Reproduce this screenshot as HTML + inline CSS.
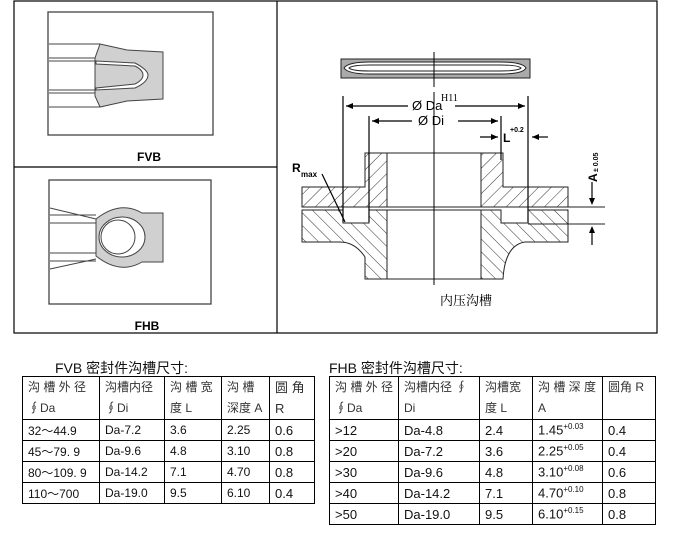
<!DOCTYPE html>
<html><head><meta charset="utf-8"><style>
body{margin:0;width:675px;height:539px;background:#fff;position:relative;overflow:hidden;font-family:"Liberation Sans","Noto Sans CJK SC",sans-serif;color:#111}
.abs{position:absolute}
table{position:absolute;border-collapse:collapse;font-size:12px}
td{border:1.3px solid #000;padding:0 0 0 5px;vertical-align:middle;white-space:nowrap}
.hd td{height:41px;color:#333;line-height:21px}
.r td{height:20px}
sup{font-size:8px}
</style></head><body>
<svg class="abs" style="left:0;top:0" width="675" height="340">
<defs><pattern id="h" width="9" height="9" patternUnits="userSpaceOnUse" patternTransform="rotate(45)"><line x1="0" y1="0" x2="0" y2="9" stroke="#333" stroke-width="1"/></pattern>
<pattern id="h2" width="9" height="9" patternUnits="userSpaceOnUse" patternTransform="rotate(-45)"><line x1="0" y1="0" x2="0" y2="9" stroke="#333" stroke-width="1"/></pattern></defs>
<g fill="none" stroke="#000" stroke-width="1.2">
<rect x="14" y="1" width="643" height="332"/>
<line x1="277" y1="1" x2="277" y2="333"/>
<line x1="14" y1="167" x2="277" y2="167"/>
</g>
<!-- FVB -->
<rect x="48" y="12" width="165" height="123" fill="none" stroke="#444" stroke-width="1.3"/>
<path d="M100 44 L127 50 L163 52 L163 99 L127 101 L100 107 L95 96 L95 58 Z" fill="#d0d0d0" stroke="#444"/>
<path d="M96 61 L135 63 Q148 70 148 75 Q148 82 135 88 L96 90 L96 88 L135 84 Q143 80 143 75 Q143 70 135 66 L96 64 Z" fill="#fff" stroke="#444"/>
<g stroke="#444"><line x1="49" y1="44" x2="100" y2="44"/><line x1="49" y1="58" x2="95" y2="58"/><line x1="49" y1="61" x2="96" y2="61"/><line x1="49" y1="90" x2="96" y2="90"/><line x1="49" y1="93" x2="95" y2="93"/><line x1="49" y1="107" x2="100" y2="107"/></g>
<text x="149" y="161" font-size="12" font-weight="bold" text-anchor="middle" font-family="Liberation Sans">FVB</text>
<!-- FHB -->
<rect x="49" y="180" width="162" height="124" fill="none" stroke="#444" stroke-width="1.3"/>
<path d="M96 219 Q120 200 142 213 L163 213 L163 262 L142 262 Q120 275 96 256 Z" fill="#d0d0d0" stroke="#444"/>
<ellipse cx="122" cy="237" rx="23" ry="20" fill="#fff" stroke="#444"/>
<ellipse cx="118" cy="237" rx="17" ry="17" fill="#fff" stroke="#444"/>
<g stroke="#444"><line x1="50" y1="208" x2="96" y2="219"/><line x1="50" y1="215" x2="96" y2="215"/><line x1="50" y1="223" x2="96" y2="223"/><line x1="50" y1="253" x2="96" y2="253"/><line x1="50" y1="261" x2="96" y2="261"/><line x1="50" y1="269" x2="96" y2="259"/></g>
<text x="147" y="330" font-size="12" font-weight="bold" text-anchor="middle" font-family="Liberation Sans">FHB</text>
<!-- seal top -->
<path d="M341 59 L530 59 L530 78 L341 78 Z" fill="#aaa" stroke="#222"/>
<path d="M344 68 Q348 62 370 62 L500 62 Q523 62 526 68 Q523 74 500 74 L370 74 Q348 74 344 68Z" fill="#fff" stroke="#222"/>
<path d="M349 68 Q352 65 370 65 L500 65 Q518 65 521 68 Q518 71 500 71 L370 71 Q352 71 349 68Z" fill="none" stroke="#222"/>
<line x1="434" y1="52" x2="434" y2="87" stroke="#000"/>
<!-- flange -->
<g stroke="#222" stroke-width="1">
<path d="M302 187 L365 187 L365 153 L387 153 L387 207 L302 207 Z" fill="url(#h)"/>
<path d="M481 153 L503 153 L503 187 L568 187 L568 207 L481 207 Z" fill="url(#h)"/>
<path d="M302 210 L343 210 L343 223 L369 223 L369 210 L387 210 L387 279 L365 279 L365 257 Q355 242 340 242 L302 242 Z" fill="url(#h2)"/>
<path d="M481 210 L501 210 L501 223 L528 223 L528 210 L568 210 L568 242 L525 242 Q505 245 503 279 L481 279 Z" fill="url(#h2)"/>
<line x1="387" y1="153" x2="481" y2="153"/><line x1="387" y1="279" x2="481" y2="279"/>
<line x1="387" y1="207" x2="605" y2="207"/><line x1="387" y1="210" x2="481" y2="210"/>
<line x1="528" y1="224" x2="605" y2="224"/>
</g>
<line x1="434" y1="92" x2="434" y2="285" stroke="#000"/>
<g stroke="#000" stroke-width="1.2">
<line x1="343" y1="96" x2="343" y2="222"/><line x1="528" y1="96" x2="528" y2="222"/>
<line x1="369" y1="116" x2="369" y2="222"/><line x1="501" y1="116" x2="501" y2="160"/>
<line x1="346" y1="106" x2="408" y2="106"/><line x1="455" y1="106" x2="525" y2="106"/>
<line x1="372" y1="121" x2="412" y2="121"/><line x1="458" y1="121" x2="498" y2="121"/>
<line x1="480" y1="137" x2="498" y2="137"/><line x1="532" y1="137" x2="548" y2="137"/>
<line x1="592" y1="182" x2="592" y2="200"/><line x1="592" y1="230" x2="592" y2="245"/>
<line x1="322" y1="174" x2="345" y2="222"/>
</g>
<g fill="#000"><path d="M346 106 l7 -3 v6z"/><path d="M525 106 l-7 -3 v6z"/><path d="M372 121 l7 -3 v6z"/><path d="M498 121 l-7 -3 v6z"/><path d="M498 137 l-7 -3 v6z"/><path d="M532 137 l7 -3 v6z"/><path d="M592 205 l-3 -7 h6z"/><path d="M592 226 l-3 7 h6z"/></g>
<text x="412" y="110" font-size="13">Ø Da</text><text x="441" y="101" font-size="10" font-family="Liberation Serif">H11</text>
<text x="418" y="125" font-size="13">Ø Di</text>
<text x="503" y="142" font-size="12" font-weight="bold">L</text><text x="510" y="132" font-size="7" font-weight="bold">+0.2</text>
<text x="292" y="172" font-size="12" font-weight="bold">R</text><text x="301" y="177" font-size="8" font-weight="bold">max</text>
<text transform="translate(597,182) rotate(-90)" font-size="12" font-weight="bold">A</text>
<text transform="translate(598,172) rotate(-90)" font-size="7" font-weight="bold">± 0.05</text>
<text x="440" y="305" font-size="13" font-family="Liberation Serif,Noto Serif CJK SC,serif">内压沟槽</text>
</svg>
<div class="abs" style="left:55px;top:358px;font-size:14px">FVB 密封件沟槽尺寸:</div>
<table style="left:22px;top:376px;width:293px">
<tr class="hd"><td style="width:71px">沟 槽 外 径<br>∮Da</td><td style="width:59px">沟槽内径<br>∮Di</td><td style="width:51px">沟 槽 宽<br>度 L</td><td style="width:42px">沟 槽<br>深度 A</td><td style="font-size:13px">圆 角<br>R</td></tr>
<tr class="r"><td>32～44.9</td><td>Da-7.2</td><td>3.6</td><td>2.25</td><td style="font-size:13px">0.6</td></tr>
<tr class="r"><td>45～79. 9</td><td>Da-9.6</td><td>4.8</td><td>3.10</td><td style="font-size:13px">0.8</td></tr>
<tr class="r"><td>80～109. 9</td><td>Da-14.2</td><td>7.1</td><td>4.70</td><td style="font-size:13px">0.8</td></tr>
<tr class="r"><td>110～700</td><td>Da-19.0</td><td>9.5</td><td>6.10</td><td style="font-size:13px">0.4</td></tr>
</table>
<div class="abs" style="left:329px;top:358px;font-size:14px">FHB 密封件沟槽尺寸:</div>
<table style="left:329px;top:376px;width:327px;font-size:13px">
<tr class="hd" style="font-size:12px"><td style="width:63px">沟 槽 外 径<br>∮Da</td><td style="width:75px">沟槽内径 ∮<br>Di</td><td style="width:47px">沟槽宽<br>度 L</td><td style="width:64px">沟 槽 深 度<br>A</td><td>圆角 R<br>&nbsp;</td></tr>
<tr class="r"><td>&gt;12</td><td>Da-4.8</td><td>2.4</td><td>1.45<sup>+0.03</sup></td><td>0.4</td></tr>
<tr class="r"><td>&gt;20</td><td>Da-7.2</td><td>3.6</td><td>2.25<sup>+0.05</sup></td><td>0.4</td></tr>
<tr class="r"><td>&gt;30</td><td>Da-9.6</td><td>4.8</td><td>3.10<sup>+0.08</sup></td><td>0.6</td></tr>
<tr class="r"><td>&gt;40</td><td>Da-14.2</td><td>7.1</td><td>4.70<sup>+0.10</sup></td><td>0.8</td></tr>
<tr class="r"><td>&gt;50</td><td>Da-19.0</td><td>9.5</td><td>6.10<sup>+0.15</sup></td><td>0.8</td></tr>
</table>
</body></html>
